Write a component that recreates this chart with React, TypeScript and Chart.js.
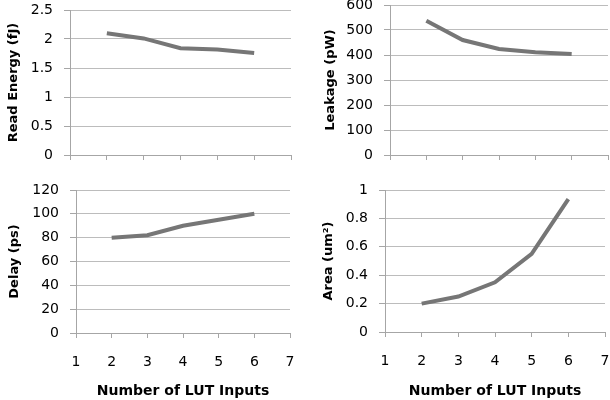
import React, { useEffect, useRef } from "react";
import { Chart, registerables } from "chart.js";
Chart.register(...registerables);

const lutInputs = [2, 3, 4, 5, 6];
const readEnergy = [2.1, 2.01, 1.84, 1.82, 1.76];
const leakage = [537, 460, 424, 411, 404];
const delay = [80, 82, 90, 95, 100];
const area = [0.2, 0.25, 0.35, 0.55, 0.935];
const xTitle = "Number of LUT Inputs";

const LINE = "#767676";
const AXIS = "#a6a6a6";
const GRID = "#bcbcbc";
const FONT = "'DejaVu Sans', sans-serif";

type Panel = {
  left: number; top: number; w: number; h: number;
  yW: number; xH: number; padTop: number; padRight: number;
  yMax: number; yStep: number; yTitle: string; yTitlePad: number;
  values: number[]; showX: boolean;
};

const panels: Panel[] = [
  { left: 0, top: 0, w: 300, h: 175, yW: 70, xH: 20, padTop: 10, padRight: 9, yMax: 2.5, yStep: 0.5, yTitle: "Read Energy (fJ)", yTitlePad: 6, values: readEnergy, showX: false },
  { left: 300, top: 0, w: 310, h: 175, yW: 90, xH: 20, padTop: 5, padRight: 2, yMax: 600, yStep: 100, yTitle: "Leakage (pW)", yTitlePad: 23, values: leakage, showX: false },
  { left: 0, top: 175, w: 300, h: 225, yW: 76, xH: 67, padTop: 15, padRight: 10, yMax: 120, yStep: 20, yTitle: "Delay (ps)", yTitlePad: 7, values: delay, showX: true },
  { left: 300, top: 175, w: 310, h: 225, yW: 85, xH: 68, padTop: 15, padRight: 5, yMax: 1, yStep: 0.2, yTitle: "Area (um²)", yTitlePad: 21, values: area, showX: true },
];

const fmt = (v: any) => String(parseFloat(Number(v).toFixed(3)));

function PanelChart({ p }: { p: Panel }) {
  const ref = useRef<HTMLCanvasElement | null>(null);
  useEffect(() => {
    if (!ref.current) return;
    const chart = new Chart(ref.current, {
      type: "line",
      data: {
        datasets: [
          {
            data: lutInputs.map((x, i) => ({ x, y: p.values[i] })),
            borderColor: LINE,
            borderWidth: 4,
            pointRadius: 0,
            tension: 0,
            fill: false,
          },
        ],
      },
      options: {
        animation: false,
        responsive: false,
        devicePixelRatio: 1,
        layout: { padding: { top: p.padTop, right: p.padRight, left: 0, bottom: 0 } },
        plugins: { legend: { display: false }, tooltip: { enabled: false } },
        scales: {
          x: {
            type: "linear",
            min: 1,
            max: 7,
            ticks: { stepSize: 1, display: p.showX, padding: 16, color: "#000", font: { family: FONT, size: 14 }, callback: fmt },
            grid: { drawOnChartArea: false, drawTicks: true, tickLength: 5, color: AXIS },
            border: { color: AXIS, width: 1 },
            title: { display: p.showX, text: xTitle, color: "#000", font: { family: FONT, size: 14, weight: "bold" }, padding: { top: 0, bottom: 0 } },
            afterFit: (s: any) => { s.height = p.xH; s.paddingLeft = 0; s.paddingRight = 0; },
          },
          y: {
            min: 0,
            max: p.yMax,
            ticks: { stepSize: p.yStep, padding: 11, color: "#000", font: { family: FONT, size: 14 }, callback: fmt },
            grid: { color: GRID, tickColor: AXIS, tickLength: 6, drawTicks: true },
            border: { color: AXIS, width: 1 },
            title: { display: true, text: p.yTitle, color: "#000", font: { family: FONT, size: 13, weight: "bold" }, padding: { top: p.yTitlePad, bottom: 0 } },
            afterFit: (s: any) => { s.width = p.yW; s.paddingTop = 0; s.paddingBottom = 0; },
          },
        },
      },
    } as any);
    return () => chart.destroy();
  }, [p]);
  return (
    <canvas
      ref={ref}
      width={p.w}
      height={p.h}
      style={{ position: "absolute", left: p.left, top: p.top, width: p.w, height: p.h }}
    />
  );
}

export default function App() {
  return (
    <div style={{ position: "fixed", left: 0, top: 0, width: 610, height: 400, background: "#fff" }}>
      {panels.map((p, i) => (
        <PanelChart key={i} p={p} />
      ))}
    </div>
  );
}
